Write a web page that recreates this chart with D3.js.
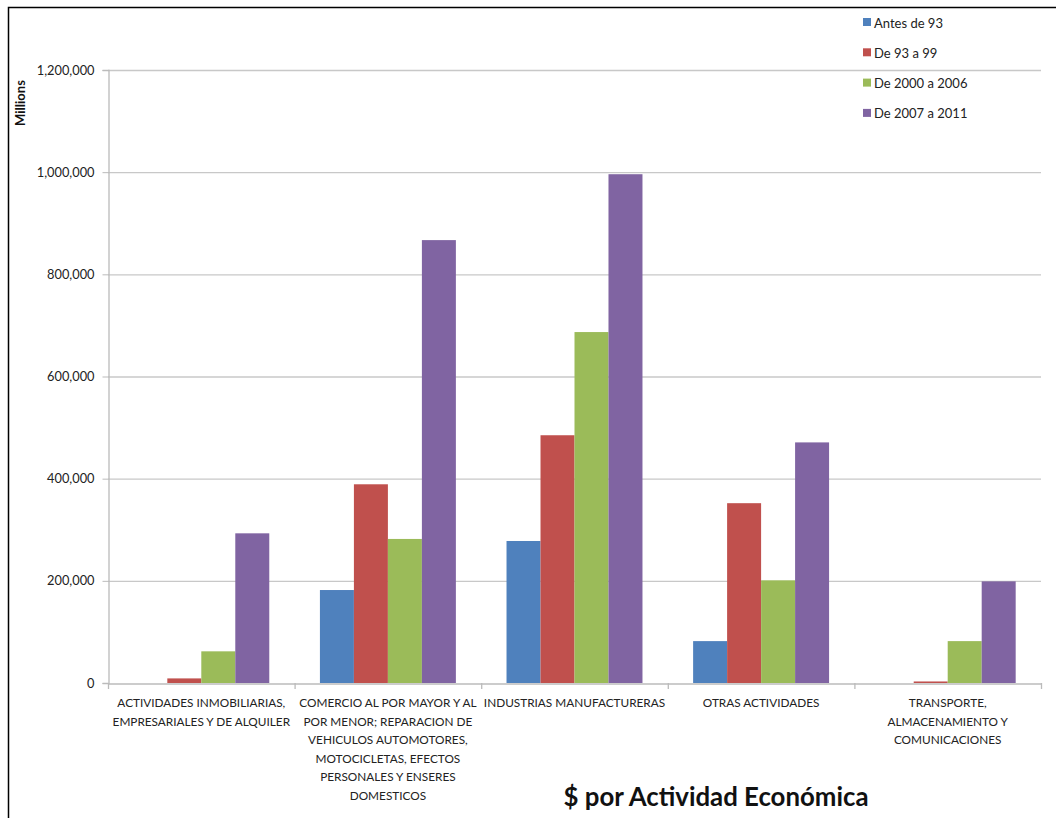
<!DOCTYPE html>
<html><head><meta charset="utf-8">
<script src="https://cdn.jsdelivr.net/npm/d3@7"></script>
<style>body{margin:0;background:#fff}svg{display:block;font-family:Lato,"Open Sans",sans-serif}</style>
</head><body><svg id="c" width="1056" height="818"></svg>
<script>
const categories = ["ACTIVIDADES INMOBILIARIAS, EMPRESARIALES Y DE ALQUILER",
  "COMERCIO AL POR MAYOR Y AL POR MENOR; REPARACION DE VEHICULOS AUTOMOTORES, MOTOCICLETAS, EFECTOS PERSONALES Y ENSERES DOMESTICOS",
  "INDUSTRIAS MANUFACTURERAS","OTRAS ACTIVIDADES","TRANSPORTE, ALMACENAMIENTO Y COMUNICACIONES"];
const categoryLines = [
  ["ACTIVIDADES INMOBILIARIAS,","EMPRESARIALES Y DE ALQUILER"],
  ["COMERCIO AL POR MAYOR Y AL","POR MENOR; REPARACION DE","VEHICULOS AUTOMOTORES,","MOTOCICLETAS, EFECTOS","PERSONALES Y ENSERES","DOMESTICOS"],
  ["INDUSTRIAS MANUFACTURERAS"],["OTRAS ACTIVIDADES"],
  ["TRANSPORTE,","ALMACENAMIENTO Y","COMUNICACIONES"]];
const seriesNames = ["Antes de 93","De 93 a 99","De 2000 a 2006","De 2007 a 2011"];
const antes93 = [0,182000,278000,82000,0];
const de93a99 = [9000,389000,485000,352000,3000];
const de2000a2006 = [62000,282000,687000,201000,82000];
const de2007a2011 = [293000,867000,996000,471000,199000];
const colors = ["#4F81BD","#C0504D","#9BBB59","#8064A2"];
const yTicks = [0,200000,400000,600000,800000,1000000,1200000];

const series = [antes93,de93a99,de2000a2006,de2007a2011];
const svg = d3.select("#c");
svg.append("rect").attr("x",8.5).attr("y",7.5).attr("width",1200).attr("height",1000)
  .attr("fill","#fff").attr("stroke","#000").attr("stroke-width",1.5);

const x0 = d3.scaleBand().domain(categories).range([108,1041]).paddingInner(0).paddingOuter(0);
const x1 = d3.scaleBand().domain(d3.range(4)).range([0,x0.bandwidth()]).paddingInner(0).paddingOuter(0.745);
const y = d3.scaleLinear().domain([0,1200000]).range([683,70]);

// gridlines
svg.append("g").selectAll("line").data(yTicks.slice(1)).join("line")
  .attr("x1",108).attr("x2",1041).attr("y1",d=>y(d)+0.5).attr("y2",d=>y(d)+0.5)
  .attr("stroke","#c8c8c8").attr("stroke-width",1.3);

// y axis
const ya = svg.append("g").attr("transform","translate(108.5,0)")
  .call(d3.axisLeft(y).tickValues(yTicks).tickSize(6).tickPadding(8).tickFormat(d3.format(",")));
ya.select(".domain").attr("stroke","#bbb").attr("stroke-width",1.3);
ya.selectAll(".tick line").attr("stroke","#bbb");
ya.selectAll(".tick text").attr("font-size",12.8).attr("fill","#222").attr("font-family","Lato");

// x axis
const xa = svg.append("g").attr("transform","translate(0,683.5)")
  .call(d3.axisBottom(x0).tickSize(0).tickFormat(""));
xa.select(".domain").attr("stroke","#bbb").attr("stroke-width",1.3);
const bounds = categories.map(c=>x0(c)).concat([x0.range()[1]]);
svg.append("g").selectAll("line").data(bounds).join("line")
  .attr("x1",d=>d+0.5).attr("x2",d=>d+0.5).attr("y1",683).attr("y2",689)
  .attr("stroke","#bbb").attr("stroke-width",1.3);

// bars
const g = svg.append("g");
categories.forEach((c,i)=>{
  series.forEach((s,j)=>{
    if(s[i]<=0) return;
    g.append("rect").attr("x",x0(c)+x1(j)).attr("width",x1.bandwidth())
      .attr("y",y(s[i])).attr("height",y(0)-y(s[i])).attr("fill",colors[j]);
  });
});

// category labels
categories.forEach((c,i)=>{
  const t = svg.append("text").attr("text-anchor","middle").attr("font-size",11.8).attr("fill","#222")
    .attr("transform",`translate(${x0(c)+x0.bandwidth()/2},707)`);
  categoryLines[i].forEach((l,k)=>t.append("tspan").attr("x",0).attr("dy",k?18.6:0).text(l));
});

// y label
svg.append("text").attr("transform","translate(25,103) rotate(-90)").attr("text-anchor","middle")
  .attr("font-size",13).attr("font-weight","bold").attr("fill","#111").text("Millions");

// legend
const lg = svg.append("g").attr("transform","translate(863,23)");
seriesNames.forEach((n,i)=>{
  lg.append("rect").attr("x",0).attr("y",i*30.3-5).attr("width",8).attr("height",8).attr("fill",colors[i]);
  lg.append("text").attr("x",11).attr("y",i*30.3+4.5).attr("font-size",13).attr("fill","#222").text(n);
});

// title
svg.append("text").attr("x",716).attr("y",806).attr("text-anchor","middle").attr("font-size",25.8)
  .attr("font-weight","bold").attr("fill","#111").text("$ por Actividad Económica");
</script></body></html>
